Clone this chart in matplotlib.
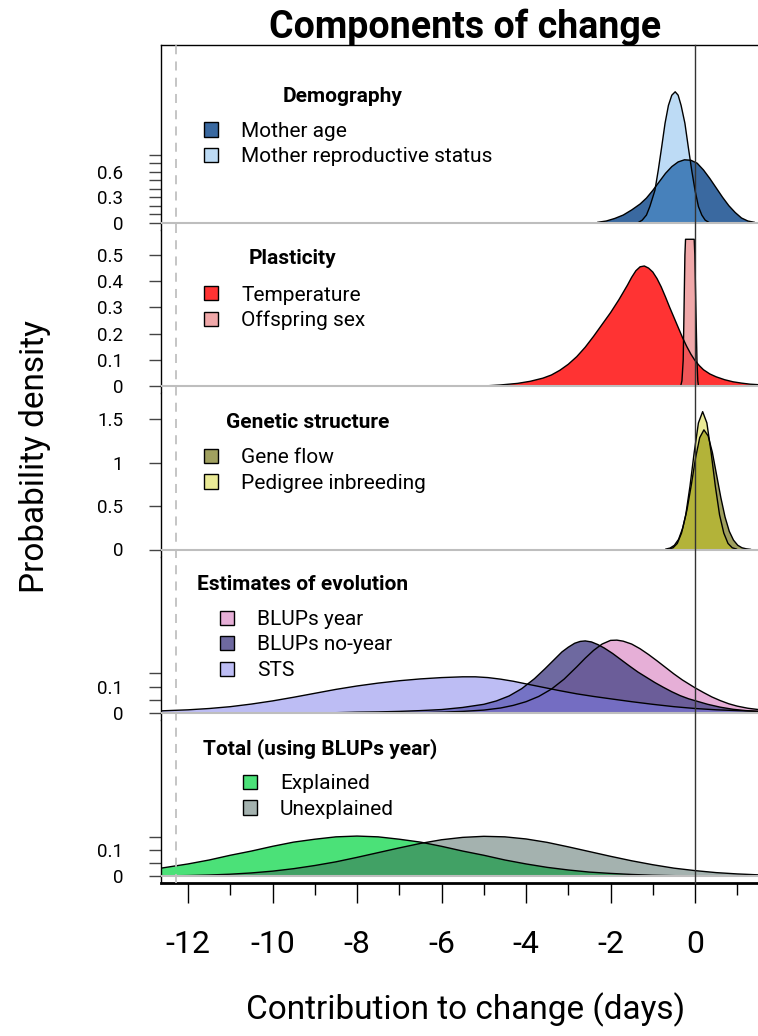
import numpy as np
import matplotlib.pyplot as plt
from matplotlib.patches import Patch
from matplotlib.transforms import blended_transform_factory
from matplotlib.colors import to_rgba

plt.rcParams['font.family'] = ['Roboto', 'DejaVu Sans']
plt.rcParams['axes.unicode_minus'] = False

# ---- data (x = days, y = density) ----
age_x = [-2.3, -2.1, -1.9, -1.7, -1.5, -1.3, -1.15, -1.0, -0.85, -0.7, -0.55, -0.4, -0.25,
         -0.1, 0.05, 0.2, 0.35, 0.5, 0.65, 0.8, 0.95, 1.1, 1.25, 1.4]
age_y = [0.005, 0.02, 0.05, 0.09, 0.15, 0.22, 0.29, 0.38, 0.48, 0.58, 0.66, 0.715, 0.74,
         0.735, 0.70, 0.62, 0.52, 0.41, 0.30, 0.20, 0.12, 0.055, 0.02, 0.005]

repro_x = [-1.35, -1.25, -1.15, -1.07, -0.95, -0.87, -0.79, -0.71, -0.63, -0.55, -0.47, -0.40,
           -0.33, -0.24, -0.16, -0.08, 0.0, 0.08, 0.16, 0.24, 0.34]
repro_y = [0.0, 0.03, 0.09, 0.19, 0.38, 0.62, 0.89, 1.17, 1.38, 1.50, 1.54, 1.50,
           1.38, 1.17, 0.89, 0.62, 0.38, 0.19, 0.09, 0.03, 0.0]

temp_x = [-5.0, -4.6, -4.2, -3.9, -3.6, -3.4, -3.2, -3.0, -2.8, -2.6, -2.4, -2.2, -2.0, -1.8,
          -1.6, -1.5, -1.4, -1.3, -1.2, -1.1, -1.0, -0.9, -0.8, -0.7, -0.6, -0.5, -0.4, -0.3,
          -0.2, -0.1, 0.0, 0.1, 0.2, 0.35, 0.5, 0.7, 0.9, 1.1, 1.3, 1.6]
temp_y = [0.0, 0.004, 0.01, 0.018, 0.03, 0.042, 0.06, 0.083, 0.112, 0.148, 0.19, 0.235, 0.28, 0.33,
          0.385, 0.415, 0.44, 0.455, 0.458, 0.45, 0.435, 0.41, 0.378, 0.34, 0.30, 0.262, 0.224, 0.186,
          0.152, 0.122, 0.097, 0.078, 0.062, 0.046, 0.035, 0.024, 0.016, 0.011, 0.007, 0.004]

sex_x = [-0.34, -0.31, -0.28, -0.26, -0.24, -0.225, -0.02, -0.005, 0.02, 0.045, 0.065, 0.08]
sex_y = [0.0, 0.02, 0.10, 0.30, 0.50, 0.56, 0.56, 0.50, 0.30, 0.10, 0.02, 0.0]

flow_x = [-0.69, -0.59, -0.49, -0.39, -0.29, -0.19, -0.09, 0.01, 0.11, 0.21, 0.31, 0.41,
          0.51, 0.61, 0.71, 0.81, 0.91, 1.01, 1.11, 1.21, 1.31]
flow_y = [0.005, 0.017, 0.048, 0.117, 0.25, 0.46, 0.74, 1.05, 1.29, 1.38, 1.31, 1.12,
          0.86, 0.60, 0.375, 0.21, 0.108, 0.049, 0.02, 0.008, 0.002]

inbr_x = [-0.62, -0.52, -0.42, -0.32, -0.22, -0.12, -0.02, 0.08, 0.18, 0.28, 0.38, 0.48,
          0.58, 0.68, 0.78, 0.88, 0.98]
inbr_y = [0.005, 0.02, 0.07, 0.19, 0.40, 0.73, 1.12, 1.46, 1.59, 1.46, 1.12, 0.73,
          0.40, 0.19, 0.07, 0.02, 0.005]

year_x = [-6.5, -6.0, -5.5, -5.0, -4.6, -4.3, -4.0, -3.7, -3.4, -3.1, -2.8, -2.6, -2.4, -2.2,
          -2.0, -1.85, -1.7, -1.5, -1.3, -1.1, -0.9, -0.7, -0.5, -0.3, -0.1, 0.0, 0.2, 0.4,
          0.6, 0.8, 1.0, 1.25, 1.5]
year_y = [0.0, 0.002, 0.005, 0.01, 0.018, 0.028, 0.042, 0.062, 0.09, 0.128, 0.175, 0.208, 0.238,
          0.262, 0.276, 0.277, 0.273, 0.262, 0.244, 0.222, 0.198, 0.173, 0.148, 0.125, 0.105,
          0.095, 0.077, 0.06, 0.046, 0.034, 0.025, 0.017, 0.012]

noyear_x = [-8.5, -8.0, -7.5, -7.0, -6.5, -6.0, -5.5, -5.0, -4.7, -4.4, -4.1, -3.8, -3.55,
            -3.35, -3.15, -3.0, -2.85, -2.72, -2.6, -2.45, -2.3, -2.15, -1.95, -1.75, -1.55,
            -1.35, -1.15, -0.95, -0.75, -0.55, -0.35, -0.15, 0.0, 0.3, 0.6, 0.9, 1.2, 1.5]
noyear_y = [0.0, 0.002, 0.003, 0.005, 0.008, 0.012, 0.02, 0.032, 0.045, 0.064, 0.092, 0.13, 0.168,
            0.2, 0.232, 0.25, 0.265, 0.272, 0.274, 0.27, 0.26, 0.247, 0.226, 0.202, 0.178,
            0.155, 0.135, 0.115, 0.097, 0.08, 0.065, 0.053, 0.046, 0.032, 0.021, 0.013, 0.008, 0.005]

sts_x = [-12.64, -12.0, -11.5, -11.0, -10.5, -10.0, -9.5, -9.0, -8.5, -8.0, -7.5, -7.0, -6.5,
         -6.0, -5.5, -5.2, -4.9, -4.6, -4.3, -4.0, -3.6, -3.2, -2.8, -2.4, -2.0, -1.5, -1.0,
         -0.5, 0.0, 0.5, 1.0, 1.5]
sts_y = [0.007, 0.011, 0.016, 0.023, 0.033, 0.045, 0.059, 0.074, 0.089, 0.102, 0.113, 0.122, 0.129,
         0.134, 0.137, 0.137, 0.134, 0.128, 0.12, 0.11, 0.097, 0.084, 0.072, 0.062, 0.053, 0.042,
         0.032, 0.023, 0.016, 0.011, 0.008, 0.005]

expl_x = [-12.64, -12.0, -11.5, -11.0, -10.5, -10.0, -9.5, -9.0, -8.5, -8.0, -7.5, -7.0, -6.5,
          -6.0, -5.5, -5.0, -4.5, -4.0, -3.5, -3.0, -2.5, -2.0, -1.5, -1.0, -0.5, 0.0, 0.5, 1.5]
expl_y = [0.031, 0.047, 0.062, 0.080, 0.096, 0.114, 0.130, 0.141, 0.150, 0.153, 0.150, 0.141, 0.130,
          0.114, 0.096, 0.080, 0.062, 0.047, 0.034, 0.024, 0.016, 0.011, 0.007, 0.004, 0.0024,
          0.001, 0.0008, 0.0002]

unexp_x = [-12.64, -12.0, -11.5, -11.0, -10.5, -10.0, -9.5, -9.0, -8.5, -8.0, -7.5, -7.0, -6.5,
           -6.0, -5.5, -5.0, -4.5, -4.0, -3.5, -3.0, -2.5, -2.0, -1.5, -1.0, -0.5, 0.0, 0.5,
           1.0, 1.5]
unexp_y = [0.0013, 0.0028, 0.0049, 0.008, 0.0128, 0.0196, 0.029, 0.041, 0.055, 0.072, 0.090, 0.108,
           0.125, 0.139, 0.148, 0.152, 0.150, 0.142, 0.129, 0.112, 0.094, 0.076, 0.059, 0.044,
           0.031, 0.0216, 0.014, 0.009, 0.0055]

panel_titles = ['Demography', 'Plasticity', 'Genetic structure',
                'Estimates of evolution', 'Total (using BLUPs year)']

# (label, x, y, base colour, alpha) in drawing order
panels = [
    [('Mother age', age_x, age_y, '#3A69A0', 1.0),
     ('Mother reproductive status', repro_x, repro_y, '#5CA7E6', 0.4)],
    [('Temperature', temp_x, temp_y, '#FF3333', 1.0),
     ('Offspring sex', sex_x, sex_y, '#E66E71', 0.6)],
    [('Gene flow', flow_x, flow_y, '#A0A05F', 1.0),
     ('Pedigree inbreeding', inbr_x, inbr_y, '#CFCF05', 0.42)],
    [('BLUPs year', year_x, year_y, '#E6AFD7', 1.0),
     ('BLUPs no-year', noyear_x, noyear_y, '#554F8F', 0.85),
     ('STS', sts_x, sts_y, '#7D7DEB', 0.5)],
    [('Explained', expl_x, expl_y, '#4BE178', 1.0),
     ('Unexplained', unexp_x, unexp_y, '#37544E', 0.45)],
]

ytick_major = [[0, 0.3, 0.6], [0, 0.1, 0.2, 0.3, 0.4, 0.5], [0, 0.5, 1, 1.5], [0, 0.1], [0, 0.1]]
ytick_labels = [['0', '0.3', '0.6'], ['0', '0.1', '0.2', '0.3', '0.4', '0.5'],
                ['0', '0.5', '1', '1.5'], ['0', '0.1'], ['0', '0.1']]
ytick_minor = [[0.1, 0.2, 0.4, 0.5, 0.7, 0.8], [], [], [0.05, 0.15], [0.05, 0.15]]

xticks = [-12, -10, -8, -6, -4, -2, 0]
xminor = [-11, -9, -7, -5, -3, -1, 1]

# ---- layout (pixels) ----
W, H = 758, 1036
px = 1 / 100 * 72  # points per pixel
x_lo, x_hi = -12.64, 1.49
edges = [45, 230, 393.5, 557, 720, 883]
baselines = [222.7, 386, 549.5, 712.7, 876.3]
scales = [85, 262, 86.7, 262, 263]
leg_left = [204, 204, 204, 220, 243]
leg_mid = [144, 308, 470.5, 645, 796.5]
title_pos = [(343, 97), (292, 259), (308, 422), (303, 585), (320, 749)]

fig = plt.figure(figsize=(W / 100, H / 100), dpi=100)
axes = []
for i in range(5):
    top, bot = edges[i], edges[i + 1]
    ax = fig.add_axes([161 / W, 1 - bot / H, 1 - 161 / W, (bot - top) / H])
    ax.set_xlim(x_lo, x_hi)
    ax.set_ylim((baselines[i] - bot) / scales[i], (baselines[i] - top) / scales[i])
    axes.append(ax)

    for label, xs, ys, col, a in panels[i]:
        ax.fill_between(xs, ys, 0, facecolor=to_rgba(col, a), lw=0, zorder=2)
        ax.plot(xs, ys, color='black', lw=1.0, zorder=3)
    ax.axhline(0, color='#BEBEBE', lw=1.5, zorder=4)

    ax.set_yticks(ytick_major[i])
    ax.set_yticklabels(ytick_labels[i])
    ax.set_yticks(ytick_minor[i], minor=True)
    ax.tick_params(axis='y', which='both', length=12 * px, width=1, color='#444444',
                   pad=26 * px, labelsize=13.5, direction='out')
    ax.tick_params(axis='x', which='both', bottom=False, labelbottom=False)
    for s in ['right', 'top', 'bottom']:
        ax.spines[s].set_visible(False)
    ax.spines['left'].set_linewidth(1.0)

    handles = [Patch(facecolor=to_rgba(c, a), edgecolor='black', lw=1.0)
               for _, _, _, c, a in panels[i]]
    labels = [p[0] for p in panels[i]]
    ax.legend(handles, labels, loc='center left',
              bbox_to_anchor=(leg_left[i] / W, 1 - leg_mid[i] / H),
              bbox_transform=fig.transFigure, frameon=False, fontsize=15,
              handlelength=0.68, handleheight=0.68, handletextpad=1.1,
              labelspacing=0.31, borderpad=0, borderaxespad=0)
    tx, ty = title_pos[i]
    fig.text(tx / W, 1 - ty / H, panel_titles[i], ha='center', va='center',
             fontsize=15, fontweight='bold')

axes[0].spines['top'].set_visible(True)
axes[0].spines['top'].set_linewidth(1.0)

ax5 = axes[-1]
ax5.spines['bottom'].set_visible(True)
ax5.spines['bottom'].set_linewidth(2.0)
ax5.set_xticks(xticks)
ax5.set_xticklabels([str(v) for v in xticks])
ax5.set_xticks(xminor, minor=True)
ax5.tick_params(axis='x', which='major', bottom=True, labelbottom=True,
                length=20 * px, width=1, labelsize=23, pad=27 * px)
ax5.tick_params(axis='x', which='minor', bottom=True, length=12 * px, width=1)

# reference lines spanning every panel
tr = blended_transform_factory(ax5.transData, fig.transFigure)
y0, y1 = 1 - edges[-1] / H, 1 - edges[0] / H
ax5.plot([0, 0], [y0, y1], transform=tr, color='#333333', lw=1.0, clip_on=False, zorder=6)
ax5.plot([-12.28, -12.28], [y0, y1], transform=tr, color='#C0C0C0', lw=1.3,
         ls=(0, (5, 4)), clip_on=False, zorder=6)

fig.text(465 / W, 1 - 27 / H, 'Components of change', ha='center', va='center',
         fontsize=27, fontweight='bold')
fig.text(35 / W, 1 - 457 / H, 'Probability density', ha='center', va='center',
         rotation=90, fontsize=24)
fig.text(466 / W, 1 - 1010 / H, 'Contribution to change (days)', ha='center', va='center',
         fontsize=24)

fig.savefig('out.png', dpi=100)
